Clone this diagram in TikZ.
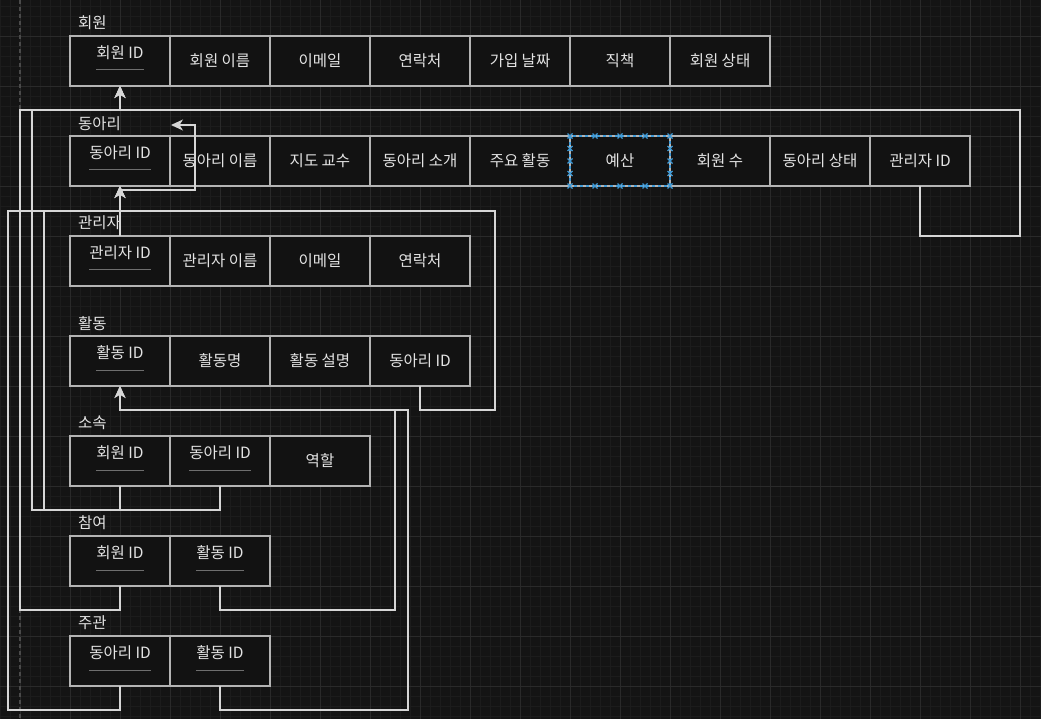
\documentclass[tikz,border=0pt]{standalone}
\usepackage{fontspec}
\setmainfont{Noto Sans CJK KR}
\usepackage{tikz}
\usetikzlibrary{arrows.meta}

\definecolor{canvasbg}{HTML}{141414}
\definecolor{minorgridc}{HTML}{1C1C1C}
\definecolor{majorgridc}{HTML}{2A2A2A}
\definecolor{pageedgec}{HTML}{4A4A4A}
\definecolor{cellfill}{HTML}{121212}
\definecolor{cellline}{HTML}{B4B4B4}
\definecolor{celltext}{HTML}{E4E4E4}
\definecolor{pkrulec}{HTML}{6E6E6E}
\definecolor{linkc}{HTML}{D6D6D6}
\definecolor{selc}{HTML}{3F9BD8}

\begin{document}
\begin{tikzpicture}[x=1pt,y=-1pt,
  minorgrid/.style={draw=minorgridc,line width=0.6pt},
  majorgrid/.style={draw=majorgridc,line width=0.8pt},
  pageedge/.style={draw=pageedgec,line width=1.2pt,dash pattern=on 4pt off 3pt},
  cell/.style={draw=cellline,fill=cellfill,line width=1.3pt,minimum width=100pt,minimum height=50pt,
    inner sep=0pt,outer sep=0pt,text=celltext,font=\fontsize{15.5}{18}\selectfont},
  pktext/.style={inner sep=0pt,outer sep=0pt,text=celltext,font=\fontsize{15.5}{18}\selectfont},
  pkrule/.style={draw=pkrulec,line width=1pt},
  tablelabel/.style={inner sep=0pt,outer sep=0pt,anchor=west,text=celltext,font=\fontsize{15.5}{18}\selectfont},
  fkline/.style={draw=linkc,line width=1.3pt,-{Stealth[length=12pt,width=11pt,inset=3.5pt]}},
  selbox/.style={draw=selc,line width=1.2pt,dash pattern=on 3pt off 3pt},
  selmark/.style={draw=selc,line width=1.2pt}]
\path[use as bounding box] (0,0) rectangle (1041,719);
\path[fill=canvasbg,draw=none] (0,0) rectangle (1041,719);

% grid
\foreach \gx in {0,10,...,1040} \draw[minorgrid] (\gx,0) -- (\gx,719);
\foreach \gy in {6,16,...,716} \draw[minorgrid] (0,\gy) -- (1041,\gy);
\foreach \gx in {20,70,...,1020} \draw[majorgrid] (\gx,0) -- (\gx,719);
\foreach \gy in {36,86,...,686} \draw[majorgrid] (0,\gy) -- (1041,\gy);
\draw[pageedge] (20,0) -- (20,719);

% 회원
\node[tablelabel] (lblmem) at (78,23) {회원};
\node[cell] (mem1) at (120,61) {};
\node[pktext] (mem1t) at ([yshift=8pt]mem1.center) {회원 ID};
\draw[pkrule] ([yshift=-17pt]mem1t.west) -- ([yshift=-17pt]mem1t.east);
\node[cell] (mem2) at (220,61) {회원 이름};
\node[cell] (mem3) at (320,61) {이메일};
\node[cell] (mem4) at (420,61) {연락처};
\node[cell] (mem5) at (520,61) {가입 날짜};
\node[cell] (mem6) at (620,61) {직책};
\node[cell] (mem7) at (720,61) {회원 상태};

% 동아리
\node[tablelabel] (lblclub) at (78,124) {동아리};
\node[cell] (club1) at (120,161) {};
\node[pktext] (club1t) at ([yshift=8pt]club1.center) {동아리 ID};
\draw[pkrule] ([yshift=-17pt]club1t.west) -- ([yshift=-17pt]club1t.east);
\node[cell] (club2) at (220,161) {동아리 이름};
\node[cell] (club3) at (320,161) {지도 교수};
\node[cell] (club4) at (420,161) {동아리 소개};
\node[cell] (club5) at (520,161) {주요 활동};
\node[cell] (club6) at (620,161) {예산};
\node[cell] (club7) at (720,161) {회원 수};
\node[cell] (club8) at (820,161) {동아리 상태};
\node[cell] (club9) at (920,161) {관리자 ID};

% 관리자
\node[tablelabel] (lblmgr) at (78,223) {관리자};
\node[cell] (mgr1) at (120,261) {};
\node[pktext] (mgr1t) at ([yshift=8pt]mgr1.center) {관리자 ID};
\draw[pkrule] ([yshift=-17pt]mgr1t.west) -- ([yshift=-17pt]mgr1t.east);
\node[cell] (mgr2) at (220,261) {관리자 이름};
\node[cell] (mgr3) at (320,261) {이메일};
\node[cell] (mgr4) at (420,261) {연락처};

% 활동
\node[tablelabel] (lblact) at (78,324) {활동};
\node[cell] (act1) at (120,361) {};
\node[pktext] (act1t) at ([yshift=8pt]act1.center) {활동 ID};
\draw[pkrule] ([yshift=-17pt]act1t.west) -- ([yshift=-17pt]act1t.east);
\node[cell] (act2) at (220,361) {활동명};
\node[cell] (act3) at (320,361) {활동 설명};
\node[cell] (act4) at (420,361) {동아리 ID};

% 소속
\node[tablelabel] (lblaff) at (78,423) {소속};
\node[cell] (aff1) at (120,461) {};
\node[pktext] (aff1t) at ([yshift=8pt]aff1.center) {회원 ID};
\draw[pkrule] ([yshift=-17pt]aff1t.west) -- ([yshift=-17pt]aff1t.east);
\node[cell] (aff2) at (220,461) {};
\node[pktext] (aff2t) at ([yshift=8pt]aff2.center) {동아리 ID};
\draw[pkrule] ([yshift=-17pt]aff2t.west) -- ([yshift=-17pt]aff2t.east);
\node[cell] (aff3) at (320,461) {역할};

% 참여
\node[tablelabel] (lblpart) at (78,523) {참여};
\node[cell] (part1) at (120,561) {};
\node[pktext] (part1t) at ([yshift=8pt]part1.center) {회원 ID};
\draw[pkrule] ([yshift=-17pt]part1t.west) -- ([yshift=-17pt]part1t.east);
\node[cell] (part2) at (220,561) {};
\node[pktext] (part2t) at ([yshift=8pt]part2.center) {활동 ID};
\draw[pkrule] ([yshift=-17pt]part2t.west) -- ([yshift=-17pt]part2t.east);

% 주관
\node[tablelabel] (lblhost) at (78,623) {주관};
\node[cell] (host1) at (120,661) {};
\node[pktext] (host1t) at ([yshift=8pt]host1.center) {동아리 ID};
\draw[pkrule] ([yshift=-17pt]host1t.west) -- ([yshift=-17pt]host1t.east);
\node[cell] (host2) at (220,661) {};
\node[pktext] (host2t) at ([yshift=8pt]host2.center) {활동 ID};
\draw[pkrule] ([yshift=-17pt]host2t.west) -- ([yshift=-17pt]host2t.east);

% selected cell
\draw[selbox] (club6.north west) rectangle (club6.south east);
\foreach \sx in {570,595,620,645,670} {
  \draw[selmark] (\sx-2.5,133.5) -- (\sx+2.5,138.5) (\sx-2.5,138.5) -- (\sx+2.5,133.5);
  \draw[selmark] (\sx-2.5,183.5) -- (\sx+2.5,188.5) (\sx-2.5,188.5) -- (\sx+2.5,183.5);
}
\foreach \sy in {148.5,161,173.5} {
  \draw[selmark] (567.5,\sy-2.5) -- (572.5,\sy+2.5) (567.5,\sy+2.5) -- (572.5,\sy-2.5);
  \draw[selmark] (667.5,\sy-2.5) -- (672.5,\sy+2.5) (667.5,\sy+2.5) -- (672.5,\sy-2.5);
}

% connectors
\coordinate (clubtag) at (171,125);
\draw[fkline] (aff1.south) |- (32,510) -- (32,110) -| (mem1.south);
\draw[fkline] (part1.south) |- (20,610) -- (20,110) -| (mem1.south);
\draw[fkline] (club9.south) |- (1020,236) -- (1020,110) -| (mem1.south);
\draw[fkline] (mgr1.north) -- (club1.south);
\draw[fkline] (aff2.south) |- (44,510) -- (44,211) -| (club1.south);
\draw[fkline] (act4.south) |- (495,410) -- (495,211) -| (club1.south);
\draw[fkline] (host1.south) |- (8,710) -- (8,211) -| (120,190) -- (195,190) |- (clubtag);
\draw[fkline] (part2.south) |- (395,610) -- (395,410) -| (act1.south);
\draw[fkline] (host2.south) |- (408,710) -- (408,410) -| (act1.south);
\end{tikzpicture}
\end{document}
